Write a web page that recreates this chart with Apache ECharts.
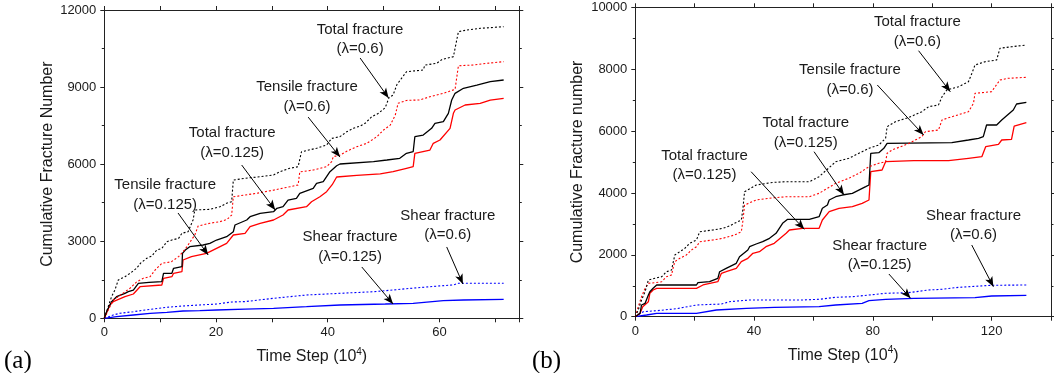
<!DOCTYPE html>
<html><head><meta charset="utf-8">
<script src="https://cdn.jsdelivr.net/npm/echarts@6/dist/echarts.min.js"></script>
<style>html,body{margin:0;padding:0;background:#fff}#c{width:1054px;height:373px}</style>
</head><body><div id="c"></div>
<script>
// ---------- DATA: panel (a) ----------
const aTotal06 = [[0,0],[0.7,450],[1.3,840],[1.9,1100],[2.5,1490],[3.7,1620],[4.6,1750],[5.8,1950],[6.5,2150],[7.6,2335],[8.5,2425],[9.4,2660],[10.3,2720],[11.2,2980],[12.1,3050],[13.3,3110],[13.9,3310],[15.0,3370],[15.9,3830],[16.2,4215],[18.9,4240],[20.7,4340],[21.9,4480],[22.8,4540],[23.1,5380],[25.2,5450],[27.9,5510],[30.3,5580],[31.5,5710],[33.2,5840],[34.7,5900],[35.3,6480],[38.0,6620],[39.8,6745],[40.7,7000],[42.2,7070],[43.4,7260],[44.6,7395],[45.8,7485],[46.7,7590],[47.9,7850],[49.1,7980],[50.3,8200],[51.0,8600],[51.7,8690],[52.4,9100],[54.1,9598],[57.1,9664],[57.4,9858],[59.5,9924],[60.5,10080],[62.5,10182],[63.4,11155],[64.9,11221],[67.3,11287],[71.5,11350]];
const aTensile06 = [[0,0],[0.7,320],[1.6,710],[2.5,840],[3.5,1000],[4.6,1170],[5.8,1420],[7.0,1560],[8.2,1620],[9.1,1880],[10.3,2140],[12.0,2200],[13.3,2400],[14.1,2590],[14.8,2790],[15.6,3050],[16.2,3240],[16.8,3590],[18.9,3700],[20.7,3760],[22.0,3850],[22.8,4020],[23.1,4730],[25.2,4800],[27.3,4865],[30.3,4990],[33.2,5120],[34.7,5190],[35.0,5700],[37.4,5770],[39.8,5900],[40.7,6095],[41.0,6290],[42.2,6356],[43.4,6500],[45.2,6680],[47.0,6811],[48.8,7068],[50.0,7330],[51.2,7520],[52.1,7912],[52.6,8370],[54.1,8480],[56.5,8500],[58.3,8625],[60.7,8757],[62.8,8913],[63.4,9830],[66.1,9858],[68.5,9924],[71.5,9990]];
const aTotal0125 = [[0,0],[0.5,300],[1.3,646],[2.2,840],[3.7,973],[4.3,1035],[5.2,1100],[6.1,1362],[8.0,1400],[10.3,1424],[10.6,1751],[12.1,1751],[12.4,1946],[13.9,2008],[14.0,2530],[14.5,2658],[15.3,2787],[17.7,2853],[18.9,2919],[20.1,3047],[21.9,3176],[23.1,3370],[23.4,3631],[25.5,3826],[26.1,3954],[27.9,4087],[30.3,4149],[30.9,4281],[32.0,4343],[32.9,4604],[34.4,4670],[35.0,4865],[37.4,5060],[38.0,5254],[39.2,5316],[39.8,5511],[40.4,5706],[41.6,5939],[42.2,6005],[48.2,6095],[50.6,6161],[52.9,6227],[54.1,6422],[55.3,6484],[55.6,7068],[57.1,7134],[58.6,7395],[59.2,7589],[60.7,7652],[61.6,7979],[62.2,8496],[62.8,8757],[64.3,8952],[66.7,9080],[69.1,9209],[71.5,9275]];
const aTensile0125 = [[0,0],[1.0,517],[1.6,646],[3.7,841],[5.2,946],[6.4,1230],[10.3,1296],[10.6,1557],[12.1,1619],[12.4,1751],[13.9,1814],[14.1,2269],[15.6,2397],[18.3,2530],[20.1,2724],[21.9,2919],[23.1,3242],[25.2,3308],[26.1,3565],[27.9,3697],[30.3,3826],[32.0,4020],[32.9,4215],[36.2,4343],[37.1,4538],[38.6,4733],[39.8,4927],[40.8,5200],[41.6,5500],[45.2,5560],[49.4,5620],[51.7,5706],[54.1,5838],[55.3,5900],[55.6,6422],[58.3,6550],[58.9,6811],[60.1,6939],[61.9,7395],[62.5,7979],[62.8,8107],[64.6,8302],[67.3,8368],[69.1,8496],[71.5,8561]];
const aShear06 = [[0,0],[1.6,130],[2.8,195],[5.2,257],[8.2,350],[11.2,428],[14.1,479],[17.1,518],[20.1,556],[22.8,634],[25.2,650],[30.3,778],[36.2,907],[42.2,973],[48.2,1035],[51.7,1101],[54.1,1152],[58.3,1230],[62.5,1300],[63.4,1362],[71.5,1362]];
const aShear0125 = [[0,0],[2.2,62],[5.2,128],[8.2,195],[11.2,233],[14.1,284],[17.1,296],[20.1,323],[25.2,360],[30.3,389],[36.2,451],[42.2,518],[50.3,556],[55.3,584],[55.6,646],[60.7,685],[64.3,712],[71.5,739]];

// ---------- DATA: panel (b) ----------
const bTotal06 = [[0,0],[1.0,217],[2.1,540],[3.3,808],[4.4,1186],[6.6,1241],[8.9,1293],[10.5,1454],[12.2,1509],[12.7,1726],[13.3,1994],[15.0,2101],[16.7,2211],[18.3,2372],[20.6,2479],[21.7,2747],[26.1,2802],[29.5,2857],[31.7,2931],[33.4,3019],[35.7,3125],[36.2,3449],[36.8,4040],[40.7,4256],[46.3,4340],[50.8,4363],[58.6,4363],[61.9,4525],[64.5,4750],[67.5,5010],[71.9,5119],[75.3,5281],[78.7,5443],[82.0,5549],[84.3,5766],[84.8,6141],[87.6,6302],[92.1,6440],[96.5,6626],[98.8,6787],[102.1,6842],[103.3,7110],[104.9,7327],[108.9,7434],[112.2,7595],[113.5,7900],[114.4,8135],[117.8,8242],[121.7,8297],[122.8,8675],[126.7,8726],[131.7,8781]];
const bTensile06 = [[0,0],[1.0,323],[2.1,646],[3.3,918],[4.4,1079],[6.6,1099],[8.9,1131],[10.5,1293],[12.2,1348],[12.7,1564],[13.3,1778],[15.0,1887],[17.2,1994],[18.9,2156],[20.6,2262],[21.7,2424],[26.1,2479],[29.5,2534],[33.4,2640],[35.7,2747],[36.2,3070],[36.8,3610],[40.7,3772],[46.3,3840],[50.8,3878],[58.6,3878],[61.9,3988],[67.5,4311],[71.9,4473],[75.3,4635],[78.7,4848],[82.0,4958],[84.3,5010],[84.8,5281],[86.5,5388],[92.1,5600],[96.5,5818],[97.7,5979],[102.1,6034],[103.3,6357],[104.9,6412],[112.2,6626],[113.9,6897],[114.4,7220],[120.0,7272],[122.8,7650],[125.6,7705],[131.7,7737]];
const bTotal0125 = [[0,0],[1.6,110],[2.1,378],[3.3,433],[4.4,701],[4.9,808],[6.0,918],[7.2,1025],[20.6,1025],[21.1,1099],[25.0,1131],[27.8,1241],[28.4,1454],[30.6,1564],[34.0,1726],[35.1,1939],[37.9,2156],[38.5,2262],[40.7,2350],[42.9,2424],[45.2,2534],[47.4,2695],[49.6,3019],[51.3,3148],[58.6,3148],[61.9,3232],[63.0,3503],[64.7,3610],[65.3,3772],[67.5,3878],[69.7,3933],[73.1,3988],[77.6,4202],[78.7,4256],[79.3,5281],[82.0,5300],[83.7,5443],[84.8,5604],[106.6,5624],[112.2,5711],[115.6,5766],[117.2,5818],[118.3,6196],[121.7,6196],[123.4,6357],[127.3,6680],[128.4,6875],[131.7,6930]];
const bTensile0125 = [[0,0],[1.6,110],[2.5,323],[4.4,485],[4.9,756],[6.0,863],[7.2,918],[20.6,918],[22.8,1025],[27.8,1131],[29.0,1403],[30.6,1454],[34.0,1564],[35.7,1778],[37.9,1887],[39.6,2049],[41.8,2101],[44.0,2262],[46.8,2372],[50.8,2695],[51.9,2802],[56.3,2857],[61.9,2857],[63.0,3125],[65.3,3394],[68.6,3503],[73.1,3555],[76.4,3665],[78.7,3772],[79.3,4686],[83.1,4741],[84.3,5010],[93.8,5042],[105.5,5042],[112.2,5119],[116.7,5171],[118.0,5494],[122.3,5572],[123.4,5711],[126.7,5734],[127.6,6163],[131.7,6270]];
const bShear06 = [[0,0],[2.7,162],[7.2,194],[14.0,260],[20.6,378],[29.0,410],[31.7,485],[38.5,540],[56.3,540],[61.9,562],[67.5,627],[73.1,646],[78.7,701],[84.3,756],[92.0,776],[98.8,863],[103.3,885],[108.9,950],[120.0,1015],[131.7,1025]];
const bShear0125 = [[0,0],[3.8,55],[7.2,110],[20.6,110],[27.3,217],[37.4,272],[46.8,300],[61.9,323],[67.5,378],[76.4,433],[78.7,517],[84.3,562],[93.8,595],[114.4,614],[120.0,669],[131.7,691]];

// ---------- annotations (data coordinates) ----------
const annA = [
  {text:'Total fracture\n(λ=0.6)',      at:[45.8,10851], from:[45.8,10131], to:[50.9,8574]},
  {text:'Tensile fracture\n(λ=0.6)',    at:[36.3,8613],  from:[36.5,7831],  to:[42.2,6274]},
  {text:'Total fracture\n(λ=0.125)',    at:[22.9,6823],  from:[24.6,5966],  to:[30.6,4215]},
  {text:'Tensile fracture\n(λ=0.125)',  at:[10.9,4799],  from:[13.2,4099],  to:[18.6,2464]},
  {text:'Shear fracture\n(λ=0.125)',    at:[44.0,2775],  from:[46.1,1997],  to:[51.7,557]},
  {text:'Shear fracture\n(λ=0.6)',      at:[61.5,3612],  from:[61.3,2776],  to:[64.2,1335]}
];
const annB = [
  {text:'Total fracture\n(λ=0.6)',      at:[95.0,9211],  from:[95.4,8597],  to:[106.1,7272]},
  {text:'Tensile fracture\n(λ=0.6)',    at:[72.3,7660],  from:[81.5,7489],  to:[97.1,5873]},
  {text:'Total fracture\n(λ=0.125)',    at:[57.4,5937],  from:[60.2,5333],  to:[70.3,3933]},
  {text:'Total fracture\n(λ=0.125)',    at:[23.3,4887],  from:[39.0,4686],  to:[56.9,2825]},
  {text:'Shear fracture\n(λ=0.125)',    at:[82.3,1978],  from:[85.4,1380],  to:[92.7,595]},
  {text:'Shear fracture\n(λ=0.6)',      at:[113.9,2948], from:[113.3,2317], to:[120.6,970]}
];

const FONT = "'Liberation Sans', Arial, sans-serif";
const TXT = '#1a1a1a';
const chart = echarts.init(document.getElementById('c'), null, {renderer:'canvas'});

function xAx(grid, max, interval, labelStep, pos, showLabel, name){
  return {
    type:'value', gridIndex:grid, min:0, max:max, interval:interval, position:pos,
    axisLine:{show:true, onZero:false, lineStyle:{color:'#222', width:1}},
    axisTick:{show:true, inside:false, length:4, lineStyle:{color:'#222'}},
    axisLabel:{show:showLabel, margin:8, color:TXT, fontFamily:FONT, fontSize:13,
      formatter:v => (Math.abs(v % labelStep) < 1e-9 ? String(v) : '')},
    splitLine:{show:false},
    name: name || '', nameLocation:'middle', nameGap:29,
    nameTextStyle:{color:TXT, fontFamily:FONT, fontSize:16,
      rich:{sup:{fontSize:10, fontFamily:FONT, color:TXT, padding:[0,0,9,0]}}}
  };
}
function yAx(grid, max, interval, pos, showLabel, name, gap){
  return {
    type:'value', gridIndex:grid, min:0, max:max, interval:interval, position:pos,
    axisLine:{show:true, onZero:false, lineStyle:{color:'#222', width:1}},
    axisTick:{show:true, inside:false, length:4, lineStyle:{color:'#222'}},
    minorTick:{show:true, splitNumber:2, length:2.5, lineStyle:{color:'#222'}},
    axisLabel:{show:showLabel, margin:8, color:TXT, fontFamily:FONT, fontSize:13,
      formatter:v => String(v)},
    splitLine:{show:false},
    name: name || '', nameLocation:'middle', nameGap:gap || 50, nameRotate:90,
    nameTextStyle:{color:TXT, fontFamily:FONT, fontSize:16}
  };
}
function ser(xi, yi, data, color, dotted, width){
  return {type:'line', xAxisIndex:xi, yAxisIndex:yi, data:data, symbol:'none', showSymbol:false,
    lineStyle:{color:color, width:width || (dotted ? 1.1 : 1.3), type: dotted ? [2,2] : 'solid'},
    silent:true, animation:false};
}
function arrows(xi, yi, anns){
  return {type:'line', xAxisIndex:xi, yAxisIndex:yi, data:[], symbol:'none', silent:true, animation:false,
    markLine:{silent:true, animation:false, symbol:['none','arrow'], symbolSize:[6,10], precision:3,
      lineStyle:{color:'#000', width:1, type:'solid'}, label:{show:false},
      data: anns.map(a => [{coord:a.from}, {coord:a.to}])}};
}

const option = {
  animation:false,
  backgroundColor:'#fff',
  grid:[
    {left:104.3, top:10, width:415, height:308.3, show:false},
    {left:635.3, top:7.3, width:416.4, height:309.4, show:false}
  ],
  xAxis:[
    xAx(0, 74.3, 10, 20, 'bottom', true, 'Time Step (10{sup|4})'),
    xAx(0, 74.3, 10, 20, 'top', false),
    xAx(1, 140, 20, 40, 'bottom', true, 'Time Step (10{sup|4})'),
    xAx(1, 140, 20, 40, 'top', false)
  ],
  yAxis:[
    yAx(0, 12000, 3000, 'left', true, 'Cumulative Fracture Number', 49),
    yAx(0, 12000, 3000, 'right', false),
    yAx(1, 10000, 2000, 'left', true, 'Cumulative Fracture number', 50),
    yAx(1, 10000, 2000, 'right', false)
  ],
  series:[
    ser(0,0,aShear0125,'#0000ff',false),
    ser(0,0,aShear06,'#0000ff',true),
    ser(0,0,aTensile0125,'#ff0000',false),
    ser(0,0,aTotal0125,'#000000',false),
    ser(0,0,aTensile06,'#ff0000',true),
    ser(0,0,aTotal06,'#000000',true),
    arrows(0,0,annA),
    ser(2,2,bShear0125,'#0000ff',false),
    ser(2,2,bShear06,'#0000ff',true),
    ser(2,2,bTensile0125,'#ff0000',false),
    ser(2,2,bTotal0125,'#000000',false),
    ser(2,2,bTensile06,'#ff0000',true),
    ser(2,2,bTotal06,'#000000',true),
    arrows(2,2,annB)
  ]
};
chart.setOption(option);

// annotation texts placed through the axes' own scales
const g = [];
function addTexts(gridIndex, anns){
  anns.forEach(a => {
    const p = chart.convertToPixel({gridIndex:gridIndex}, a.at);
    g.push({type:'text', x:p[0], y:p[1], silent:true, z:100,
      style:{text:a.text, fill:TXT, font:'15px ' + FONT, align:'center', verticalAlign:'middle',
        textAlign:'center', textVerticalAlign:'middle', lineHeight:19.5}});
  });
}
addTexts(0, annA);
addTexts(1, annB);
g.push({type:'text', x:4, y:361, silent:true,
  style:{text:'(a)', fill:'#000', font:'25px "Liberation Serif", "Times New Roman", serif', verticalAlign:'middle', textVerticalAlign:'middle'}});
g.push({type:'text', x:532, y:361, silent:true,
  style:{text:'(b)', fill:'#000', font:'25px "Liberation Serif", "Times New Roman", serif', verticalAlign:'middle', textVerticalAlign:'middle'}});
chart.setOption({graphic:{elements:g}});
</script></body></html>
